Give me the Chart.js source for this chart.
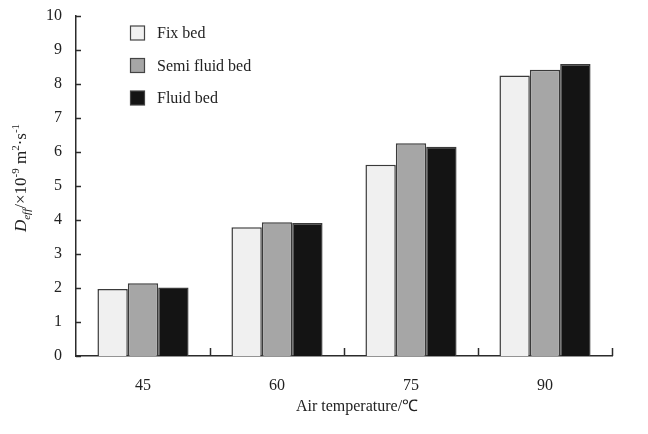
<!DOCTYPE html>
<html>
<head>
<meta charset="utf-8">
<style>
  html, body { margin: 0; padding: 0; background: #fff; }
  #wrap { width: 648px; height: 434px; }
</style>
<script src="https://cdn.jsdelivr.net/npm/chart.js@4.4.1/dist/chart.umd.min.js"></script>
</head>
<body>
<div id="wrap"><canvas id="c" width="648" height="434"></canvas></div>
<script>
// Air temperatures (℃) on the category axis
const temperatures = ['45', '60', '75', '90'];
// Effective moisture diffusivity, ×10^-9 m²/s
const fixBed = [1.97, 3.78, 5.62, 8.24];
const semiFluidBed = [2.14, 3.93, 6.25, 8.41];
const fluidBed = [2.01, 3.91, 6.15, 8.58];
const seriesNames = ['Fix bed', 'Semi fluid bed', 'Fluid bed'];
const yTicks = [0, 1, 2, 3, 4, 5, 6, 7, 8, 9, 10];

const SERIF = '"Liberation Serif", "Times New Roman", serif';
const INK = '#2b2b2b';
const fills = ['#f0f0f0', '#a6a6a6', '#141414'];

// Inward tick marks on both axes
const innerTicks = {
  id: 'innerTicks',
  afterDraw(chart) {
    const { ctx, chartArea, scales } = chart;
    ctx.save();
    ctx.strokeStyle = INK;
    ctx.lineWidth = 1.5;
    yTicks.forEach(v => {
      const y = Math.round(scales.y.getPixelForValue(v)) + 0.5;
      ctx.beginPath();
      ctx.moveTo(chartArea.left, y);
      ctx.lineTo(chartArea.left + 5, y);
      ctx.stroke();
    });
    for (let i = 1; i <= temperatures.length; i++) {
      const x = Math.round(scales.x.getPixelForValue(i - 0.5)) + 0.5;
      ctx.beginPath();
      ctx.moveTo(x, chartArea.bottom);
      ctx.lineTo(x, chartArea.bottom - 8);
      ctx.stroke();
    }
    ctx.restore();
  }
};

// Legend block in the upper-left of the plot
const boxLegend = {
  id: 'boxLegend',
  afterDraw(chart) {
    const { ctx } = chart;
    ctx.save();
    ctx.font = '16px ' + SERIF;
    ctx.textBaseline = 'middle';
    chart.data.datasets.forEach((ds, i) => {
      const cy = 33 + i * 32.5;
      ctx.fillStyle = ds.backgroundColor;
      ctx.fillRect(130.5, cy - 7, 14, 14);
      ctx.strokeStyle = '#444';
      ctx.lineWidth = 1.2;
      ctx.strokeRect(130.5, cy - 7, 14, 14);
      ctx.fillStyle = '#222';
      ctx.fillText(ds.label, 157, cy + 1);
    });
    ctx.restore();
  }
};

// Axis titles; the y title needs sub- and superscripts
const axisTitles = {
  id: 'axisTitles',
  afterDraw(chart) {
    const { ctx } = chart;
    ctx.save();
    ctx.fillStyle = '#222';
    ctx.textBaseline = 'alphabetic';
    ctx.font = '16px ' + SERIF;
    ctx.textAlign = 'center';
    ctx.fillText('Air temperature/℃', 357, 411);

    const parts = [
      { t: 'D', f: 'italic 17px ' + SERIF, dy: 0 },
      { t: 'eff', f: 'italic 11px ' + SERIF, dy: 4 },
      { t: '/×10', f: '17px ' + SERIF, dy: 0 },
      { t: '-9', f: '11px ' + SERIF, dy: -7 },
      { t: ' m', f: '17px ' + SERIF, dy: 0 },
      { t: '2', f: '11px ' + SERIF, dy: -7 },
      { t: '·s', f: '17px ' + SERIF, dy: 0 },
      { t: '-1', f: '11px ' + SERIF, dy: -7 }
    ];
    ctx.textAlign = 'left';
    let total = 0;
    parts.forEach(p => { ctx.font = p.f; p.w = ctx.measureText(p.t).width; total += p.w; });
    ctx.translate(26, 178);
    ctx.rotate(-Math.PI / 2);
    let x = -total / 2;
    parts.forEach(p => {
      ctx.font = p.f;
      ctx.fillText(p.t, x, p.dy);
      x += p.w;
    });
    ctx.restore();
  }
};

const datasets = [fixBed, semiFluidBed, fluidBed].map((vals, i) => ({
  label: seriesNames[i],
  data: vals,
  backgroundColor: fills[i],
  borderColor: '#3a3a3a',
  borderWidth: 1.5,
  borderSkipped: 'bottom',
  categoryPercentage: 0.68,
  barPercentage: 1.0
}));

new Chart(document.getElementById('c'), {
  type: 'bar',
  data: { labels: temperatures, datasets },
  options: {
    responsive: false,
    animation: false,
    devicePixelRatio: 1,
    layout: { padding: { left: 0, top: 12, right: 36, bottom: 0 } },
    plugins: {
      legend: { display: false },
      tooltip: { enabled: false }
    },
    scales: {
      x: {
        grid: { display: false },
        border: { display: true, color: INK, width: 1.5 },
        ticks: { color: '#222', font: { family: SERIF, size: 16 }, padding: 12 },
        afterFit(s) { s.height = 78; }
      },
      y: {
        min: 0,
        max: 10,
        grid: { display: false },
        border: { display: true, color: INK, width: 1.5 },
        ticks: {
          stepSize: 1,
          color: '#222',
          font: { family: SERIF, size: 16 },
          padding: 6
        },
        afterFit(s) { s.width = 76; }
      }
    }
  },
  plugins: [innerTicks, boxLegend, axisTitles]
});
</script>
</body>
</html>
